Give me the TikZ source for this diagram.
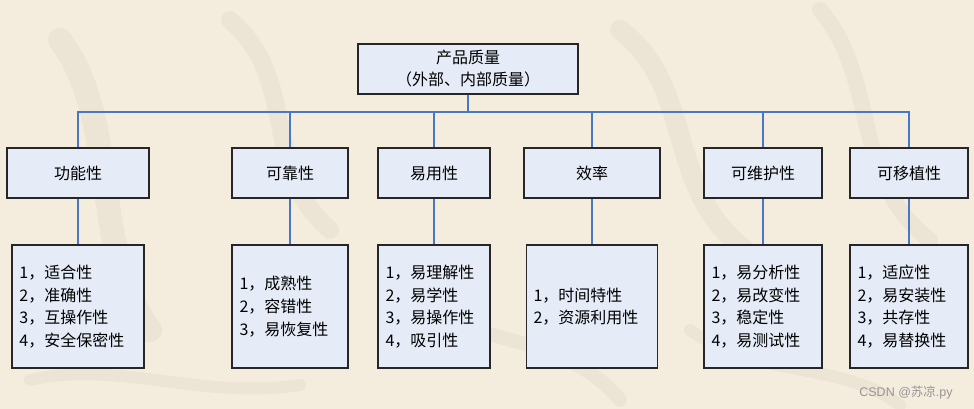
\documentclass[tikz,border=0pt]{standalone}
\usepackage{fontspec}
\newfontfamily\cjk{Noto Sans CJK SC}
\definecolor{bgc}{RGB}{244,236,221}
\definecolor{brush}{RGB}{232,223,206}
\definecolor{boxfill}{RGB}{229,236,247}
\definecolor{boxline}{RGB}{38,38,38}
\definecolor{conn}{RGB}{70,120,196}
\definecolor{wm}{RGB}{150,150,150}
\tikzset{
  topbox/.style={draw=boxline, fill=boxfill, line width=1.2pt, minimum height=50pt, align=center, inner sep=0pt, font=\cjk\fontsize{16}{22}\selectfont},
  midbox/.style={draw=boxline, fill=boxfill, line width=1.2pt, minimum height=50pt, inner sep=0pt, font=\cjk\fontsize{16}{22}\selectfont},
  leafbox/.style={draw=boxline, fill=boxfill, line width=1.2pt, minimum height=123pt, inner xsep=7.5pt, inner ysep=0pt, align=left, font=\cjk\fontsize{16}{22.7}\selectfont},
  link/.style={draw=conn, line width=1.2pt},
  brushstroke/.style={draw=brush, line cap=round, opacity=0.6}
}
\begin{document}
\begin{tikzpicture}[x=1pt,y=-1pt]
\fill[bgc] (0,0) rectangle (974,409);
\useasboundingbox (0,0) rectangle (974,409);
% faint calligraphy in the background
\draw[brushstroke, line width=24pt] (60,40) .. controls (120,120) and (90,250) .. (150,330);
\draw[brushstroke, line width=18pt] (230,20) .. controls (300,80) and (260,170) .. (330,230);
\draw[brushstroke, line width=20pt] (620,30) .. controls (700,90) and (660,200) .. (760,260);
\draw[brushstroke, line width=16pt] (820,10) .. controls (880,80) and (850,180) .. (930,240);
\draw[brushstroke, line width=14pt] (420,300) .. controls (480,350) and (560,330) .. (620,400);
\draw[brushstroke, line width=12pt] (30,380) .. controls (120,360) and (200,400) .. (300,385);
\draw[brushstroke, line width=12pt] (690,330) .. controls (760,380) and (840,360) .. (900,405);

% nodes
\node[topbox, minimum width=220pt] (top) at (468,69) {产品质量\\（外部、内部质量）};

\node[midbox, minimum width=142pt] (c1) at (78,173) {功能性};
\node[midbox, minimum width=116pt] (c2) at (290,173) {可靠性};
\node[midbox, minimum width=112pt] (c3) at (434,173) {易用性};
\node[midbox, minimum width=136pt] (c4) at (592,173) {效率};
\node[midbox, minimum width=118pt] (c5) at (763,173) {可维护性};
\node[midbox, minimum width=118pt] (c6) at (909,173) {可移植性};

\node[leafbox, text width=117pt] (g1) at (78,306.5) {1，适合性\\2，准确性\\3，互操作性\\4，安全保密性};
\node[leafbox, text width=101pt] (g2) at (290,306.5) {1，成熟性\\2，容错性\\3，易恢复性};
\node[leafbox, text width=97pt] (g3) at (434,306.5) {1，易理解性\\2，易学性\\3，易操作性\\4，吸引性};
\node[leafbox, text width=117pt, inner xsep=7pt] (g4) at (592,306.5) {1，时间特性\\2，资源利用性};
\node[leafbox, text width=103pt] (g5) at (763,306.5) {1，易分析性\\2，易改变性\\3，稳定性\\4，易测试性};
\node[leafbox, text width=103pt] (g6) at (909,306.5) {1，适应性\\2，易安装性\\3，共存性\\4，易替换性};

% connectors
\coordinate (bus) at (468,112);
\foreach \c in {c1,c2,c3,c4,c5,c6}{
  \draw[link] (top.south) -- (bus) -| (\c.north);
}
\foreach \c/\g in {c1/g1,c2/g2,c3/g3,c4/g4,c5/g5,c6/g6}{
  \draw[link] (\c.south) -- (\g.north);
}

% watermark
\node[text=wm, font=\fontspec{Liberation Sans}\fontsize{12.5}{14}\selectfont, inner sep=0pt] (wmark) at (906,393) {CSDN @{\cjk 苏凉}.py};
\end{tikzpicture}
\end{document}
